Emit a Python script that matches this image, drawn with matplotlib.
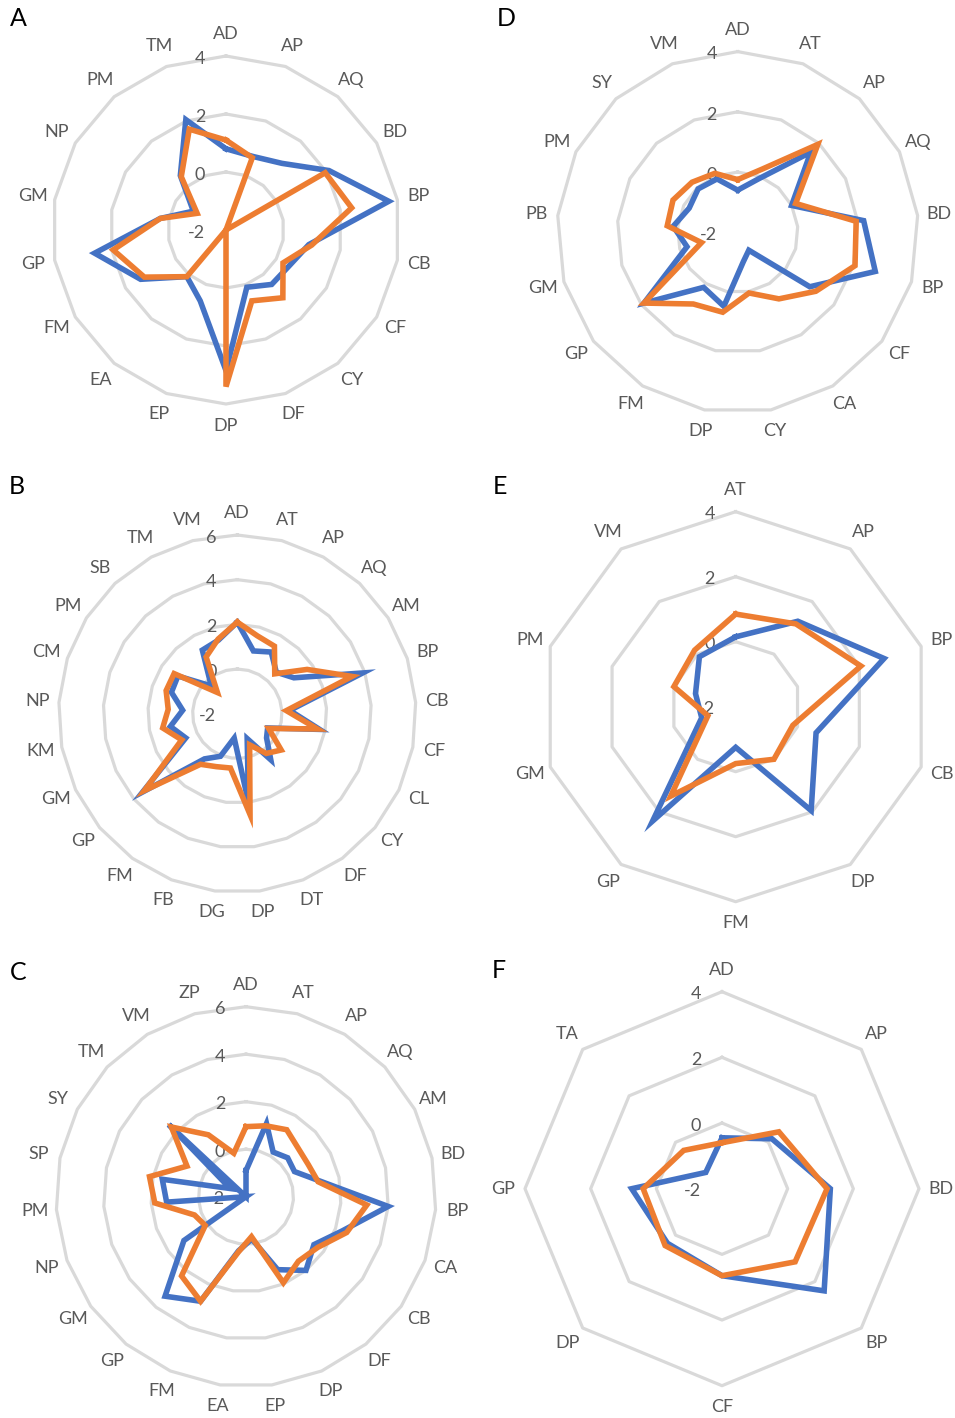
import numpy as np
import matplotlib.pyplot as plt

plt.rcParams['font.family'] = ['Lato', 'DejaVu Sans']

W, H = 955, 1418

# Panel A
cats_a = ['AD', 'AP', 'AQ', 'BD', 'BP', 'CB', 'CF', 'CY', 'DF', 'DP', 'EP', 'EA',
          'FM', 'GP', 'GM', 'NP', 'PM', 'TM']
blue_a = [0.8, 0.7, 1.0, 2.1, 3.7, 0.9, 0.5, 0.45, 0.1, 2.85, 0.6, 0.1,
          1.4, 2.6, 0.3, -0.7, 0.45, 2.05]
orange_a = [1.1, 0.65, -2, 1.95, 2.4, 1.0, 0.27, 1.05, 0.6, 3.4, -2, 0.1,
            1.25, 1.95, 0.3, -0.85, 0.4, 1.7]

# Panel B
cats_b = ['AD', 'AT', 'AP', 'AQ', 'AM', 'BP', 'CB', 'CF', 'CL', 'CY', 'DF', 'DT', 'DP',
          'DG', 'FB', 'FM', 'GP', 'GM', 'KM', 'NP', 'CM', 'PM', 'SB', 'TM', 'VM']
blue_b = [2.1, 0.9, 1.15, 0.55, 1.0, 3.9, 0.35, 1.75, -0.5, -0.3, 0.55, -0.8, 2.0,
          -0.9, 0.05, 0.5, 3.5, 0.55, 1.05, 0.45, 1.1, 1.15, -0.3, 1.25, 1.4]
orange_b = [2.1, 1.6, 1.45, 0.45, 1.7, 3.4, 0.2, 1.65, -0.45, 0.55, 0.2, -0.5, 2.55,
            0.45, 0.55, 0.8, 3.4, 0.75, 1.4, 1.1, 1.35, 1.35, -0.7, 0.9, 1.45]

# Panel C
cats_c = ['AD', 'AT', 'AP', 'AQ', 'AM', 'BD', 'BP', 'CA', 'CB', 'DF', 'DP', 'EP',
          'EA', 'FM', 'GP', 'GM', 'NP', 'PM', 'SP', 'SY', 'TM', 'VM', 'ZP']
blue_c = [-0.9, 1.2, 0.2, 0.4, 0.3, 1.2, 4.0, 2.3, 1.5, 2.0, 1.35, -0.2,
          0.3, 2.8, 3.4, 1.2, -2, 1.35, 1.6, -1.25, 2.45, -2, -2]
orange_c = [0.95, 1.1, 1.3, 1.0, 0.95, 1.1, 3.1, 2.5, 1.7, 1.5, 1.95, -0.3,
            0.35, 2.8, 2.3, 0.1, 0.3, 1.85, 2.15, 0.8, 2.3, 1.05, -0.1]

# Panel D
cats_d = ['AD', 'AT', 'AP', 'AQ', 'BD', 'BP', 'CF', 'CA', 'CY', 'DP', 'FM', 'GP',
          'GM', 'PB', 'PM', 'SY', 'VM']
blue_d = [-0.6, -0.1, 1.6, 0.0, 2.2, 2.75, 1.0, -1.3, -1.0, 0.5, 0.15, 1.9,
          -0.25, 0.15, -0.2, -0.05, -0.1]
orange_d = [-0.25, 0.25, 1.95, 0.15, 1.95, 2.05, 1.25, 0.6, 0.05, 0.7, 0.8, 1.9,
            -0.75, 0.35, 0.4, 0.25, 0.1]

# Panel E
cats_e = ['AT', 'AP', 'BP', 'CB', 'DP', 'FM', 'GP', 'GM', 'PM', 'VM']
blue_e = [0.15, 1.25, 2.8, 0.6, 1.95, -0.75, 2.35, -0.9, -0.7, -0.1]
orange_e = [0.85, 1.15, 2.05, -0.15, 0.0, -0.25, 1.4, -1.1, 0.0, 0.15]

# Panel F
cats_f = ['AD', 'AP', 'BD', 'BP', 'CF', 'DP', 'GP', 'TA']
blue_f = [-0.45, 0.15, 1.3, 2.4, 0.65, 0.35, 0.75, -1.3]
orange_f = [-0.6, 0.45, 1.2, 1.15, 0.65, 0.45, 0.4, -0.35]

BLUE = '#4472C4'
ORANGE = '#ED7D31'
GRID = '#D9D9D9'
TEXT = '#595959'

fig = plt.figure(figsize=(W / 100, H / 100), dpi=100)


def radar(cx, cy, R, cats, s1, s2, rmax, letter, lx, ly):
    # square polar axes whose edge is the outer ring
    ax = fig.add_axes([(cx - R) / W, (H - cy - R) / H, 2 * R / W, 2 * R / H],
                      projection='polar')
    n = len(cats)
    theta = np.linspace(0, 2 * np.pi, n, endpoint=False)
    th = np.append(theta, theta[0])
    ax.set_theta_zero_location('N')
    ax.set_theta_direction(-1)
    ax.set_ylim(-2, rmax)
    ax.grid(False)
    ax.spines['polar'].set_visible(False)
    ax.set_xticks([])
    ax.set_yticks([])
    ax.patch.set_alpha(0)

    for r in range(0, rmax + 1, 2):
        ax.plot(th, [r] * (n + 1), color=GRID, lw=2.3, zorder=1, clip_on=False)
    for vals, c in ((s1, BLUE), (s2, ORANGE)):
        v = np.append(vals, vals[0])
        ax.plot(th, v, color=c, lw=4.0, zorder=3, clip_on=False,
                solid_joinstyle='miter')

    for r in range(-2, rmax + 1, 2):
        ax.annotate(str(r), xy=(0, r), xytext=(-15, -2), textcoords='offset points',
                    ha='right', va='center', fontsize=13, color=TEXT, zorder=2,
                    annotation_clip=False)
    for t, c in zip(theta, cats):
        ax.annotate(c, xy=(t, rmax), xytext=(15.5 * np.sin(t), 15.5 * np.cos(t)),
                    textcoords='offset points', ha='center', va='center',
                    fontsize=13, color=TEXT, annotation_clip=False)
    fig.text(lx / W, 1 - ly / H, letter, fontsize=18, ha='center', va='center')


radar(226, 230, 174, cats_a, blue_a, orange_a, 4, 'A', 18, 18)
radar(737.7, 232.3, 180.7, cats_d, blue_d, orange_d, 4, 'D', 506, 19)
radar(237.3, 713.7, 178.7, cats_b, blue_b, orange_b, 6, 'B', 17, 486)
radar(735.7, 706.7, 195, cats_e, blue_e, orange_e, 4, 'E', 500, 487)
radar(246, 1196.7, 190, cats_c, blue_c, orange_c, 6, 'C', 18, 972)
radar(722, 1188.7, 197, cats_f, blue_f, orange_f, 4, 'F', 499, 971)

fig.savefig('out.png', dpi=100)
